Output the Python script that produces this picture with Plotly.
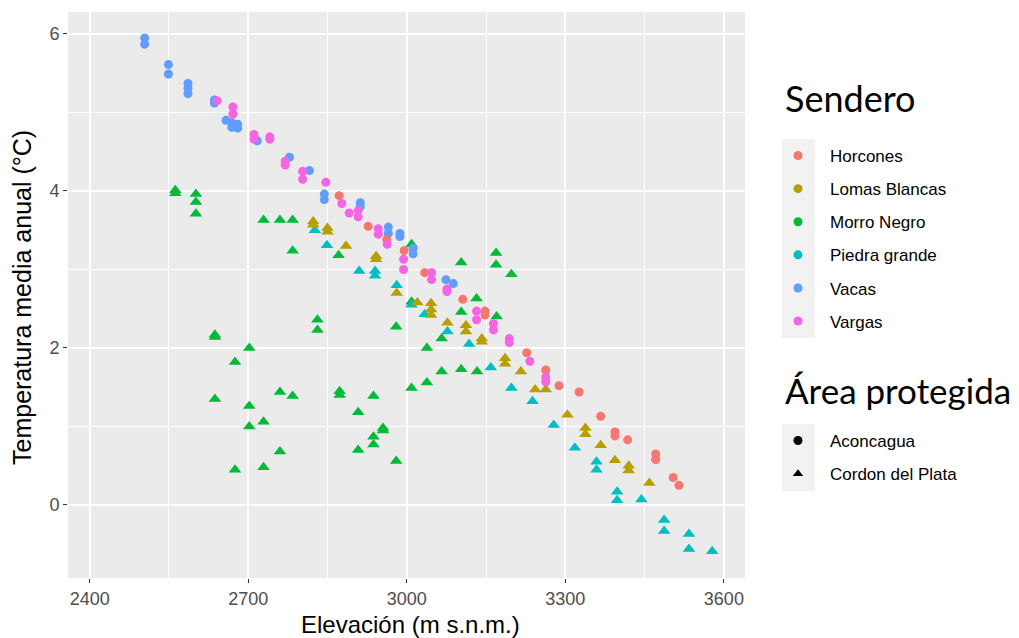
import plotly.graph_objects as go

# ---------------- data ----------------
horcones_x = [2872, 2927, 2962, 2995, 3034, 3106, 3148, 3148, 3227, 3263, 3288, 3326,
              3367, 3394, 3394, 3418, 3471, 3471, 3504, 3515]
horcones_y = [3.94, 3.55, 3.38, 3.24, 2.96, 2.62, 2.47, 2.42, 1.94, 1.72, 1.52, 1.44,
              1.13, 0.93, 0.88, 0.83, 0.65, 0.58, 0.35, 0.25]

lomas_x = [2823, 2823, 2850, 2850, 2885, 2942, 2942, 2981, 3020, 3046, 3046, 3046, 3077,
           3112, 3112, 3142, 3142, 3186, 3186, 3216, 3243, 3263, 3304, 3338, 3338, 3367,
           3394, 3420, 3420, 3459]
lomas_y = [3.61, 3.57, 3.53, 3.48, 3.30, 3.17, 3.13, 2.70, 2.58, 2.57, 2.49, 2.42, 2.32,
           2.29, 2.21, 2.12, 2.08, 1.87, 1.80, 1.70, 1.47, 1.47, 1.15, 0.98, 0.90, 0.76,
           0.57, 0.50, 0.44, 0.28]

morro_x = [2562, 2562, 2601, 2601, 2601, 2637, 2637, 2637, 2675, 2675, 2702, 2702, 2702,
           2729, 2729, 2729, 2760, 2760, 2760, 2784, 2784, 2784, 2831, 2831, 2871, 2873,
           2873, 2908, 2908, 2937, 2937, 2937, 2955, 2955, 2980, 2980, 3009, 3009, 3009,
           3038, 3038, 3066, 3066, 3103, 3103, 3103, 3132, 3133, 3169, 3169, 3170, 3198]
morro_y = [4.01, 3.97, 3.96, 3.86, 3.71, 2.17, 2.14, 1.35, 1.82, 0.45, 2.00, 1.26, 1.00,
           3.63, 1.06, 0.48, 3.63, 1.44, 0.68, 3.63, 3.24, 1.39, 2.36, 2.23, 3.18, 1.45,
           1.40, 1.18, 0.70, 1.39, 0.87, 0.77, 0.98, 0.95, 2.27, 0.56, 3.32, 2.59, 1.49,
           2.00, 1.56, 2.12, 1.70, 3.09, 2.46, 1.73, 2.63, 1.70, 3.21, 3.06, 2.40, 2.94]

piedra_x = [2826, 2849, 2910, 2940, 2940, 2981, 3009, 3034, 3077, 3118, 3159, 3198, 3238,
            3278, 3318, 3359, 3359, 3398, 3398, 3444, 3487, 3487, 3534, 3534, 3578]
piedra_y = [3.50, 3.31, 2.98, 2.98, 2.92, 2.80, 2.55, 2.43, 2.21, 2.05, 1.75, 1.49, 1.32,
            1.02, 0.73, 0.55, 0.45, 0.17, 0.06, 0.07, -0.19, -0.33, -0.37, -0.56, -0.59]

vacas_x = [2504, 2504, 2549, 2549, 2586, 2586, 2586, 2636, 2636, 2658, 2669, 2669, 2680,
           2680, 2717, 2778, 2816, 2844, 2844, 2912, 2912, 2965, 2965, 2987, 2987, 3012,
           3012, 3074, 3088]
vacas_y = [5.95, 5.87, 5.61, 5.49, 5.37, 5.31, 5.24, 5.16, 5.12, 4.90, 4.87, 4.81, 4.85,
           4.80, 4.64, 4.43, 4.26, 3.96, 3.89, 3.85, 3.80, 3.54, 3.46, 3.46, 3.42, 3.27,
           3.20, 2.87, 2.82]

vargas_x = [2641, 2671, 2671, 2711, 2711, 2741, 2741, 2770, 2770, 2803, 2803, 2847, 2877,
            2891, 2908, 2908, 2946, 2946, 2963, 2994, 2994, 3047, 3047, 3076, 3076, 3132,
            3132, 3164, 3164, 3194, 3194, 3233, 3263, 3263]
vargas_y = [5.15, 5.07, 4.98, 4.72, 4.66, 4.69, 4.66, 4.38, 4.33, 4.25, 4.15, 4.11, 3.84,
            3.72, 3.75, 3.67, 3.52, 3.45, 3.32, 3.13, 3.00, 2.96, 2.87, 2.75, 2.72, 2.47,
            2.36, 2.31, 2.23, 2.12, 2.07, 1.83, 1.63, 1.57]

senderos = ["Horcones", "Lomas Blancas", "Morro Negro", "Piedra grande", "Vacas", "Vargas"]
areas = ["Aconcagua", "Cordon del Plata"]
colors = ["#F8766D", "#B79F00", "#00BA38", "#00BFC4", "#619CFF", "#F564E3"]
sendero_area = ["Aconcagua", "Cordon del Plata", "Cordon del Plata", "Cordon del Plata",
                "Aconcagua", "Aconcagua"]
xs = [horcones_x, lomas_x, morro_x, piedra_x, vacas_x, vargas_x]
ys = [horcones_y, lomas_y, morro_y, piedra_y, vacas_y, vargas_y]
symbol_of = {"Aconcagua": "circle", "Cordon del Plata": "triangle-up"}
size_of = {"Aconcagua": 9, "Cordon del Plata": 11}

x_ticks = [2400, 2700, 3000, 3300, 3600]
y_ticks = [0, 2, 4, 6]

fig = go.Figure()

draw_order = [2, 3, 1, 4, 0, 5]
for i in draw_order:
    a = sendero_area[i]
    fig.add_trace(go.Scatter(
        x=xs[i], y=ys[i], mode="markers", showlegend=False, name=senderos[i],
        marker=dict(color=colors[i], symbol=symbol_of[a], size=size_of[a], line=dict(width=0)),
    ))

for i, s in enumerate(senderos):
    fig.add_trace(go.Scatter(
        x=[None], y=[None], mode="markers", name=s, legend="legend",
        legendgroup="s" + str(i),
        marker=dict(color=colors[i], symbol="circle", size=9),
    ))
for j, a in enumerate(areas):
    fig.add_trace(go.Scatter(
        x=[None], y=[None], mode="markers", name=a, legend="legend2",
        legendgroup="a" + str(j),
        marker=dict(color="black", symbol=symbol_of[a], size=9),
    ))

# plot area in px
L, R, T, B = 68, 745, 12, 578
W, H = 1019, 638

def px_x(p):
    return (p - L) / (R - L)

def px_y(p):
    return (B - p) / (B - T)

shapes = [
    dict(type="rect", xref="paper", yref="paper", x0=px_x(782), x1=px_x(815),
         y0=px_y(338), y1=px_y(139), fillcolor="#F2F2F2", line=dict(width=0), layer="below"),
    dict(type="rect", xref="paper", yref="paper", x0=px_x(782), x1=px_x(815),
         y0=px_y(491), y1=px_y(424), fillcolor="#F2F2F2", line=dict(width=0), layer="below"),
]

annotations = [
    dict(text="Elevación (m s.n.m.)", xref="paper", yref="paper", x=px_x(410), y=px_y(624),
         showarrow=False, xanchor="center", yanchor="middle",
         font=dict(family="Liberation Sans, Arial", size=24, color="black")),
    dict(text="Temperatura media anual (°C)", xref="paper", yref="paper", x=px_x(22), y=px_y(298),
         showarrow=False, xanchor="center", yanchor="middle", textangle=-90,
         font=dict(family="Liberation Sans, Arial", size=25, color="black")),
    dict(text="Sendero", xref="paper", yref="paper", x=px_x(783), y=px_y(98),
         showarrow=False, xanchor="left", yanchor="middle",
         font=dict(family="Lato, Noto Sans", size=36, color="black")),
    dict(text="Área protegida", xref="paper", yref="paper", x=px_x(783), y=px_y(390),
         showarrow=False, xanchor="left", yanchor="middle",
         font=dict(family="Lato, Noto Sans", size=35, color="black")),
]

axis_common = dict(
    showgrid=True, gridcolor="white", gridwidth=1.6,
    ticks="outside", ticklen=4, tickwidth=1.2, tickcolor="#333333",
    tickfont=dict(family="Liberation Sans, Arial", size=18, color="#4D4D4D"),
    zeroline=False, showline=False, automargin=False,
)

fig.update_layout(
    width=W, height=H,
    margin=dict(l=L, r=W - R, t=T, b=H - B, autoexpand=False),
    paper_bgcolor="white", plot_bgcolor="#EBEBEB",
    shapes=shapes, annotations=annotations,
    xaxis=dict(range=[2359, 3640], tickvals=x_ticks, ticktext=[str(v) for v in x_ticks],
               minor=dict(showgrid=True, gridcolor="white", gridwidth=0.7, dtick=150, tick0=2400),
               **axis_common),
    yaxis=dict(range=[-0.93, 6.28], tickvals=y_ticks, ticktext=[str(v) for v in y_ticks],
               minor=dict(showgrid=True, gridcolor="white", gridwidth=0.7, dtick=1, tick0=0),
               **axis_common),
    legend=dict(
        font=dict(family="Liberation Sans, Arial", size=17, color="black"),
        xref="container", yref="container", x=766 / W, y=1 - 138 / H,
        xanchor="left", yanchor="top", bgcolor="rgba(0,0,0,0)",
        tracegroupgap=8, itemwidth=54,
    ),
    legend2=dict(
        font=dict(family="Liberation Sans, Arial", size=17, color="black"),
        xref="container", yref="container", x=766 / W, y=1 - 423 / H,
        xanchor="left", yanchor="top", bgcolor="rgba(0,0,0,0)",
        tracegroupgap=8, itemwidth=54,
    ),
)

fig.write_html("out.html", config={"displayModeBar": False},
               post_script="document.body.style.margin='0px';document.body.style.overflow='hidden';")
